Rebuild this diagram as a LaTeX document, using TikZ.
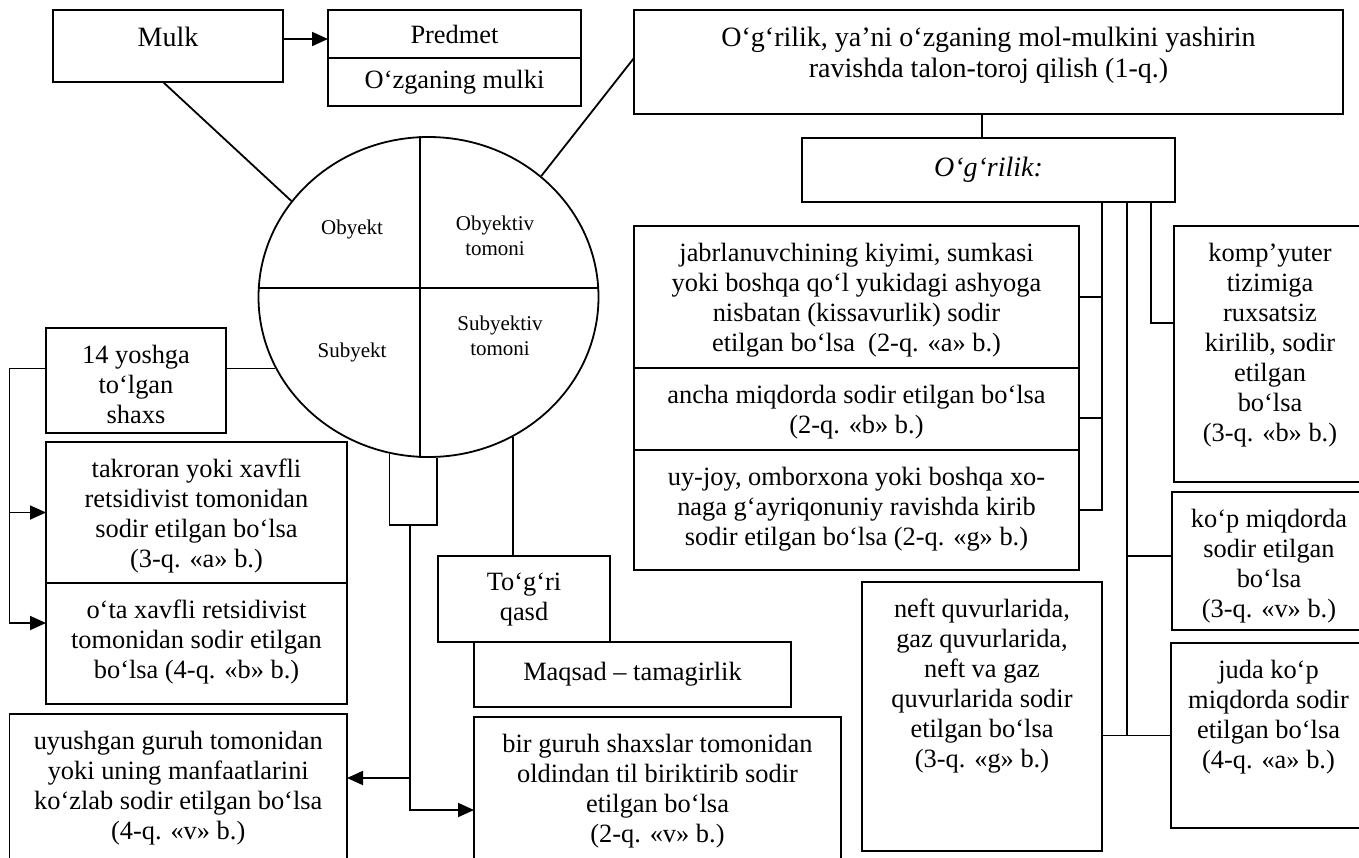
\documentclass[tikz,border=0pt]{standalone}
\usepackage{fontspec}
\setmainfont{Liberation Serif}
\usetikzlibrary{positioning,arrows.meta,shapes.geometric}
\newcommand{\boxfont}{\fontsize{13.2}{15}\selectfont}
\newcommand{\headfont}{\fontsize{14}{15.5}\selectfont}
\newcommand{\ringfont}{\fontsize{10.5}{12.4}\selectfont}

\begin{document}
\begin{tikzpicture}[
  x=0.5pt, y=-0.5pt,
  line width=0.9pt,
  box/.style={draw, rectangle, inner sep=0pt, outer sep=0pt, anchor=north west, align=center},
  head/.style={box, font=\headfont},
  txt/.style={anchor=north, align=center, inner sep=0pt, yshift=-8pt, font=\boxfont},
  ring/.style={align=center, inner sep=0pt, font=\ringfont},
  arr/.style={-{Triangle[length=8pt,width=7pt]}}
]
\useasboundingbox (0,0) rectangle (1359,857);
\clip (0,0) rectangle (1359,857);

% ---------------- top row ----------------
\node[box, minimum width=115pt, minimum height=36pt,
      label={[txt, font=\headfont]north:{Mulk}}] (mulk) at (53,10) {};
\node[box, minimum width=126.5pt, minimum height=24pt, font=\boxfont] (predmet) at (328,10) {Predmet};
\node[box, minimum width=126.5pt, minimum height=24pt, font=\boxfont, below=0pt of predmet] (ozgan) {O‘zganing mulki};
\node[box, minimum width=354.5pt, minimum height=52pt,
      label={[txt, font=\headfont]north:{O‘g‘rilik, ya’ni o‘zganing mol-mulkini yashirin\\ravishda talon-toroj qilish (1-q.)}}] (theft) at (634,10) {};
\node[head, minimum width=186.5pt, minimum height=32pt] (ogril) at (802,138) {\textit{O‘g‘rilik:}};

% ---------------- element circle ----------------
\node[draw, ellipse, minimum width=170pt, minimum height=160pt, inner sep=0pt] (circ) at (428.5,297) {};
\draw ([xshift=-4.25pt]circ.north) -- ([xshift=-4.25pt]circ.south);
\draw ([yshift=4.5pt]circ.west) -- ([yshift=4.5pt]circ.east);
\node[ring] (obj) at (352,229) {Obyekt};
\node[ring] (objside) at (495,236) {Obyektiv\\tomoni};
\node[ring] (subj) at (352,352) {Subyekt};
\node[ring] (subjside) at (500,336) {Subyektiv\\tomoni};

% ---------------- subject branch ----------------
\node[box, minimum width=90pt, minimum height=52.5pt,
      label={[txt]north:{14 yoshga\\to‘lgan\\shaxs}}] (yosh) at (46,328) {};
\node[box, minimum width=150.5pt, minimum height=70.5pt,
      label={[txt]north:{takroran yoki xavfli\\retsidivist tomonidan\\sodir etilgan bo‘lsa\\(3-q. «a» b.)}}] (takror) at (46,442) {};
\node[box, minimum width=150.5pt, minimum height=60.5pt, below=0pt of takror,
      label={[txt]north:{o‘ta xavfli retsidivist\\tomonidan sodir etilgan\\bo‘lsa (4-q. «b» b.)}}] (ota) {};
\node[box, minimum width=168.75pt, minimum height=85pt,
      label={[txt]north:{uyushgan guruh tomonidan\\yoki uning manfaatlarini\\ko‘zlab sodir etilgan bo‘lsa\\(4-q. «v» b.)}}] (uyush) at (9.5,714) {};

% ---------------- subjective side ----------------
\node[box, minimum width=86pt, minimum height=43pt,
      label={[txt]north:{To‘g‘ri\\qasd}}] (togri) at (438,556) {};
\node[box, minimum width=158.5pt, minimum height=32.5pt, font=\boxfont] (maqsad) at (474,642) {Maqsad – tamagirlik};
\node[box, minimum width=183.5pt, minimum height=85pt,
      label={[txt]north:{bir guruh shaxslar tomonidan\\oldindan til biriktirib sodir\\etilgan bo‘lsa\\(2-q. «v» b.)}}] (guruh) at (474,717) {};

% ---------------- qualifying features ----------------
\node[box, minimum width=222.5pt, minimum height=71pt,
      label={[txt]north:{jabrlanuvchining kiyimi, sumkasi\\yoki boshqa qo‘l yukidagi ashyoga\\nisbatan (kissavurlik) sodir\\etilgan bo‘lsa~ (2-q. «a» b.)}}] (jabr) at (634,226) {};
\node[box, minimum width=222.5pt, minimum height=41pt, below=0pt of jabr,
      label={[txt]north:{ancha miqdorda sodir etilgan bo‘lsa\\(2-q. «b» b.)}}] (ancha) {};
\node[box, minimum width=222.5pt, minimum height=60pt, below=0pt of ancha,
      label={[txt]north:{uy-joy, omborxona yoki boshqa xo-\\naga g‘ayriqonuniy ravishda kirib\\sodir etilgan bo‘lsa (2-q. «g» b.)}}] (uyjoy) {};
\node[box, minimum width=120pt, minimum height=134.5pt,
      label={[txt]north:{neft quvurlarida,\\gaz quvurlarida,\\neft va gaz\\quvurlarida sodir\\etilgan bo‘lsa\\(3-q. «g» b.)}}] (neft) at (862,582) {};
\node[box, minimum width=96pt, minimum height=128pt,
      label={[txt]north:{komp’yuter\\tizimiga\\ruxsatsiz\\kirilib, sodir\\etilgan\\bo‘lsa\\(3-q. «b» b.)}}] (komp) at (1174,226) {};
\node[box, minimum width=97pt, minimum height=69pt,
      label={[txt]north:{ko‘p miqdorda\\sodir etilgan\\bo‘lsa\\(3-q. «v» b.)}}] (kop) at (1172,492) {};
\node[box, minimum width=97.5pt, minimum height=92.5pt,
      label={[txt]north:{juda ko‘p\\miqdorda sodir\\etilgan bo‘lsa\\(4-q. «a» b.)}}] (juda) at (1171,643) {};

% ---------------- connectors ----------------
\draw[arr] ([yshift=3.5pt]mulk.east) -- ([yshift=3.5pt]mulk.east -| predmet.west);
\draw ([xshift=-2.5pt]mulk.south) -- (circ.145.5);
\draw ([yshift=2pt]theft.west) -- (circ.47.6);
\draw ([xshift=-3.25pt]theft.south) -- ([xshift=-3.25pt]theft.south |- ogril.north);

% three spines under O'g'rilik
\coordinate (s1) at (ogril.south -| neft.east);
\coordinate (s2) at (1127,202);
\coordinate (s3) at (1151,202);
\draw (s1) |- (uyjoy.east);
\draw (jabr.east) -- (jabr.east -| s1);
\draw ([yshift=-4.5pt]ancha.east) -- ([yshift=-4.5pt]ancha.east -| s1);
\draw (s2) |- (juda.west);
\draw ([yshift=2.5pt]kop.west) -- ([yshift=2.5pt]kop.west -| s2);
\draw (neft.east |- juda.west) -- (s2 |- juda.west);
\draw (s3) |- ([yshift=15.5pt]komp.west);

% subject rail on the left
\coordinate (lrail) at (circ.205 -| uyush.west);
\draw (circ.205) -- (circ.205 -| yosh.east);
\draw[arr] (circ.205 -| yosh.west) -- (lrail) |- ([yshift=10.25pt]ota.west);
\draw[arr] (lrail |- takror.west) -- (takror.west);

% bracket under the circle
\coordinate (ubot) at (410,525);
\coordinate (uyarr) at ([yshift=10.5pt]uyush.east);
\draw (circ.256) -- (circ.256 |- ubot) -- (circ.273.4 |- ubot) -- (circ.273.4);
\draw[arr] (ubot |- uyarr) -- (uyarr);
\draw[arr] (ubot) |- ([yshift=-4pt]guruh.west);

\draw (circ.301.7) -- (circ.301.7 |- togri.north);

\end{tikzpicture}
\end{document}
